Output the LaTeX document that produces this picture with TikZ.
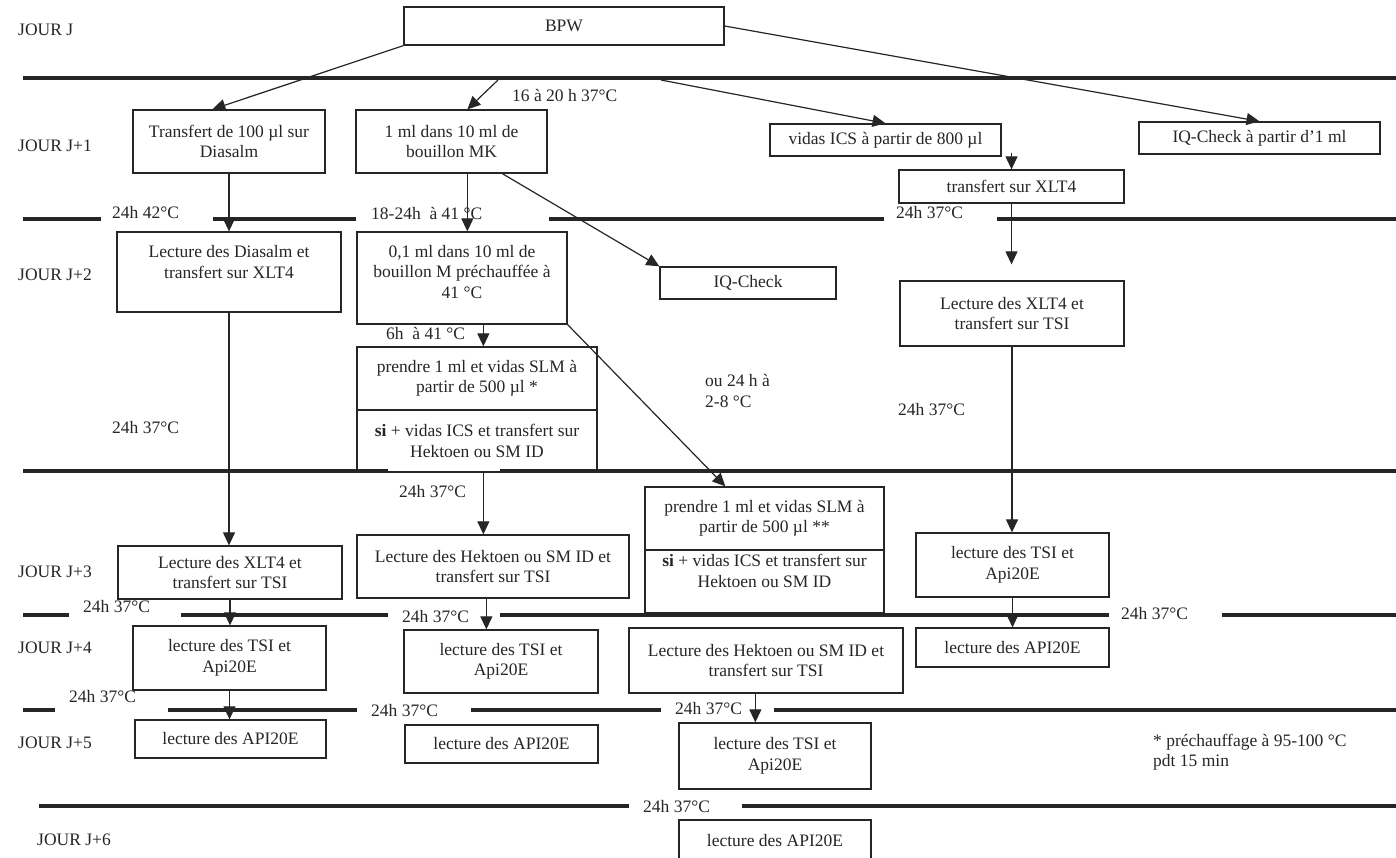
\documentclass[tikz,border=0pt]{standalone}
\usepackage{fontspec}
\setmainfont{Liberation Serif}
\usetikzlibrary{arrows.meta,calc}
\definecolor{ink}{HTML}{262626}
\begin{document}
\begin{tikzpicture}[x=1pt,y=-1pt,
  font=\fontsize{17.5}{20.5}\selectfont,
  box/.style={draw=ink, line width=1.3pt, inner sep=0pt, align=center, text=ink},
  txt/.style={inner sep=0pt, align=center, text=ink},
  lbl/.style={anchor=west, inner sep=0pt, align=left, text=ink},
  conn/.style={draw=ink, line width=1.2pt, -{Triangle[length=13pt,width=12pt]}},
  sepline/.style={draw=ink, line width=4pt}]
\useasboundingbox (0,0) rectangle (1396,857);
\fill[white] (0,0) rectangle (1396,857);

% separator lines
\draw[sepline] (23,78) -- (1396,78);
\draw[sepline] (23,219) -- (101,219);
\draw[sepline] (213,219) -- (356,219);
\draw[sepline] (549,219) -- (884,219);
\draw[sepline] (997,219) -- (1396,219);
\draw[sepline] (23,471) -- (388,471);
\draw[sepline] (500,471) -- (1396,471);
\draw[sepline] (23,615) -- (69,615);
\draw[sepline] (181,615) -- (388,615);
\draw[sepline] (500,615) -- (1109,615);
\draw[sepline] (1222,615) -- (1396,615);
\draw[sepline] (23,710) -- (55,710);
\draw[sepline] (168,710) -- (357,710);
\draw[sepline] (471,710) -- (661,710);
\draw[sepline] (774,710) -- (1396,710);
\draw[sepline] (39,806) -- (629,806);
\draw[sepline] (742,806) -- (1396,806);

% boxes
\node[box, minimum width=320pt, minimum height=38pt] (bpw) at (564,26) {BPW};
\node[box, minimum width=192pt, minimum height=63pt] (transfert) at (229,141.5) {Transfert de 100 µl sur\\Diasalm};
\node[box, minimum width=191pt, minimum height=63pt] (mk) at (451.5,141.5) {1 ml dans 10 ml de\\bouillon MK};
\node[box, minimum width=231pt, minimum height=32pt] (vidas) at (885.5,140) {vidas ICS à partir de 800 µl};
\node[box, minimum width=241pt, minimum height=32pt] (iq1) at (1259.5,138) {IQ-Check à partir d’1 ml};
\node[box, minimum width=225pt, minimum height=33pt] (xlt4a) at (1011.5,186.5) {transfert sur XLT4};
\node[box, minimum width=224pt, minimum height=80pt] (diasalm) at (229,272) {};
\node[txt] (diasalmT) at (229,262) {Lecture des Diasalm et\\transfert sur XLT4};
\node[box, minimum width=210pt, minimum height=92pt] (m01) at (462,278) {};
\node[txt] (m01T) at (462,272) {0,1 ml dans 10 ml de\\bouillon M préchauffée à\\41 °C};
\node[box, minimum width=176pt, minimum height=32pt] (iq2) at (748,283) {IQ-Check};
\node[box, minimum width=224pt, minimum height=65pt] (xlt4b) at (1012,313.5) {Lecture des XLT4 et\\transfert sur TSI};
\node[box, minimum width=240pt, minimum height=63pt] (prendreA) at (477,378.5) {prendre 1 ml et vidas SLM à\\partir de 500 µl *};
\node[box, minimum width=240pt, minimum height=62pt] (prendreB) at (477,441) {\textbf{si} + vidas ICS et transfert sur\\Hektoen ou SM ID};
\node[box, minimum width=224pt, minimum height=53pt] (xlt4c) at (230,572.5) {Lecture des XLT4 et\\transfert sur TSI};
\node[box, minimum width=272pt, minimum height=63pt] (hektoen3) at (493,566.5) {Lecture des Hektoen ou SM ID et\\transfert sur TSI};
\node[box, minimum width=239pt, minimum height=63pt] (prendre2A) at (764.5,518.5) {prendre 1 ml et vidas SLM à\\partir de 500 µl **};
\node[box, minimum width=239pt, minimum height=63pt] (prendre2B) at (764.5,581.5) {};
\node[txt] (prendre2BT) at (764.5,571) {\textbf{si} + vidas ICS et transfert sur\\Hektoen ou SM ID};
\node[box, minimum width=193pt, minimum height=64pt] (tsi3) at (1012.5,565) {lecture des TSI et\\Api20E};
\node[box, minimum width=193pt, minimum height=64pt] (tsi4a) at (229.5,658) {lecture des TSI et\\Api20E};
\node[box, minimum width=194pt, minimum height=63pt] (tsi4b) at (501,661.5) {lecture des TSI et\\Api20E};
\node[box, minimum width=274pt, minimum height=65pt] (hektoen4) at (766,660.5) {Lecture des Hektoen ou SM ID et\\transfert sur TSI};
\node[box, minimum width=193pt, minimum height=39pt] (api4) at (1012.5,647.5) {lecture des API20E};
\node[box, minimum width=191pt, minimum height=38pt] (api5a) at (230.5,739) {lecture des API20E};
\node[box, minimum width=193pt, minimum height=38pt] (api5b) at (501.5,744) {lecture des API20E};
\node[box, minimum width=192pt, minimum height=66pt] (tsi5) at (775,756) {lecture des TSI et\\Api20E};
\node[box, minimum width=192pt, minimum height=40pt] (api6) at (775,840) {lecture des API20E};

% labels
\node[lbl] (jJ) at (18,30) {JOUR J};
\node[lbl] (jJ1) at (18,146) {JOUR J+1};
\node[lbl] (jJ2) at (18,275) {JOUR J+2};
\node[lbl] (jJ3) at (18,572) {JOUR J+3};
\node[lbl] (jJ4) at (18,648) {JOUR J+4};
\node[lbl] (jJ5) at (18,743) {JOUR J+5};
\node[lbl] (jJ6) at (37,840) {JOUR J+6};
\node[lbl] (t1) at (512,95) {16 à 20 h 37°C};
\node[lbl] (t2) at (112,213) {24h 42°C};
\node[lbl] (t3) at (371,213) {18-24h\ \ à 41 °C};
\node[lbl] (t4) at (896,213) {24h 37°C};
\node[lbl] (t5) at (386,333) {6h\ \ à 41 °C};
\node[lbl, text depth=0pt] (t6) at (705,391) {ou 24 h à\\2-8 °C};
\node[lbl] (t7) at (112,428) {24h 37°C};
\node[lbl] (t8) at (898,410) {24h 37°C};
\node[lbl] (t9) at (399,492) {24h 37°C};
\node[lbl] (t10) at (83,607) {24h 37°C};
\node[lbl] (t11) at (402,617) {24h 37°C};
\node[lbl] (t12) at (1121,614) {24h 37°C};
\node[lbl] (t13) at (69,697) {24h 37°C};
\node[lbl] (t14) at (371,711) {24h 37°C};
\node[lbl] (t15) at (675,709) {24h 37°C};
\node[lbl] (t16) at (643,806) {24h 37°C};
\node[lbl] (note) at (1153,752) {* préchauffage à 95-100 °C\\pdt 15 min};

% connectors
\coordinate (c1) at (498,80);
\coordinate (c2) at (661,80);
\coordinate (mkA) at ($(mk.south west)+(112,0)$);
\coordinate (mkB) at ($(mk.south west)+(147,0)$);
\coordinate (mA) at ($(m01.south west)+(127,0)$);
\coordinate (pB) at ($(prendreB.south west)+(127,0)$);
\coordinate (hB) at ($(hektoen3.south west)+(130,0)$);
\coordinate (h4B) at ($(hektoen4.south west)+(127,0)$);
\coordinate (xb) at ($(xlt4b.north)+(0,-16)$);

\draw[conn] (bpw.south west) -- ($(transfert.north west)+(80,0)$);
\draw[conn] (c1) -- ($(mk.north west)+(112,0)$);
\draw[conn] (c2) -- (vidas.north);
\draw[conn] (bpw.east) -- (iq1.north);
\draw[conn] ($(xlt4a.north |- vidas.south)+(0,-4)$) -- (xlt4a.north);
\draw[conn] (transfert.south) -- (transfert.south |- diasalm.north);
\draw[conn] (mkA) -- (mkA |- m01.north);
\draw[conn] (mkB) -- (iq2.north west);
\draw[conn] (xlt4a.south) -- (xlt4a.south |- xb);
\draw[conn] (mA) -- (mA |- prendreA.north);
\draw[conn] (m01.south east) -- ($(prendre2A.north west)+(81,0)$);
\draw[conn] (diasalm.south) -- (diasalm.south |- xlt4c.north);
\draw[conn] (pB) -- (pB |- hektoen3.north);
\draw[conn] (xlt4b.south) -- (xlt4b.south |- tsi3.north);
\draw[conn] (xlt4c.south) -- (xlt4c.south |- tsi4a.north);
\draw[conn] (hB) -- (hB |- tsi4b.north);
\draw[conn] (tsi3.south) -- (tsi3.south |- api4.north);
\draw[conn] (tsi4a.south) -- (tsi4a.south |- api5a.north);
\draw[conn] (h4B) -- (h4B |- tsi5.north);
\end{tikzpicture}
\end{document}
